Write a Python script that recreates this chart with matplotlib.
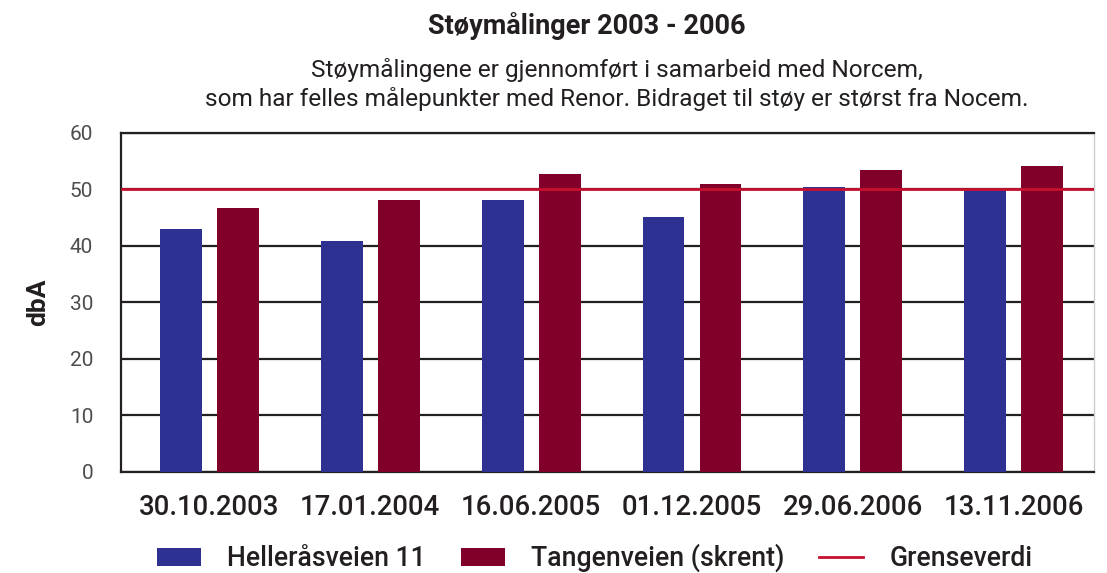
import matplotlib
matplotlib.use("Agg")
import matplotlib.pyplot as plt
import numpy as np
from matplotlib.patches import Patch
from matplotlib.lines import Line2D

DATOER = ["30.10.2003", "17.01.2004", "16.06.2005", "01.12.2005", "29.06.2006", "13.11.2006"]
HELLERAS = [43.0, 40.8, 48.2, 45.1, 50.5, 50.1]
TANGEN = [46.8, 48.1, 52.8, 51.0, 53.4, 54.1]
GRENSE = 50

BLA = "#2e3192"
RODT = "#80002a"
LINJE = "#c8102e"
TEKST = "#231f20"

plt.rcParams["font.family"] = ["Roboto", "DejaVu Sans"]

fig = plt.figure(figsize=(11.07, 5.73), dpi=100)
ax = fig.add_axes([0.1093, 0.1763, 0.8790, 0.5916])

x = np.arange(len(DATOER))
bredde = 0.26
ax.bar(x - 0.177, HELLERAS, bredde, color=BLA, zorder=3)
ax.bar(x + 0.177, TANGEN, bredde, color=RODT, zorder=3)
ax.axhline(GRENSE, color=LINJE, linewidth=2, zorder=4)

ax.set_ylim(0, 60)
ax.set_xlim(-0.55, 5.5)
ax.set_yticks(range(0, 61, 10))
ax.yaxis.grid(True, color=TEKST, linewidth=1.6, zorder=1)
ax.set_xticks(x)
ax.set_xticklabels(DATOER, fontsize=19.8, fontweight="medium", color=TEKST)
ax.tick_params(axis="y", length=0, labelsize=15, pad=20, labelcolor="#4d4d4d")
ax.tick_params(axis="x", length=0, pad=16)
for s in ["left", "top", "bottom"]:
    ax.spines[s].set_color(TEKST)
    ax.spines[s].set_linewidth(1.6)
ax.spines["right"].set_color("#cccccc")
ax.spines["right"].set_linewidth(1.0)
ax.set_ylabel("dbA", fontsize=19, fontweight="bold", color=TEKST, labelpad=14)

fig.text(0.53, 0.955, "Støymålinger 2003 - 2006", ha="center", va="center",
         fontsize=19.5, fontweight="bold", color=TEKST)
fig.text(0.557, 0.852, "Støymålingene er gjennomført i samarbeid med Norcem,\n"
         "som har felles målepunkter med Renor. Bidraget til støy er størst fra Nocem.",
         ha="center", va="center", fontsize=17.6, color=TEKST, linespacing=1.25)

handles = [Patch(facecolor=BLA), Patch(facecolor=RODT),
           Line2D([0], [0], color=LINJE, linewidth=2)]
fig.legend(handles, ["Helleråsveien 11", "Tangenveien (skrent)", "Grenseverdi"],
           loc="center", bbox_to_anchor=(0.5375, 0.026), ncol=3, frameon=False,
           prop={"size": 19.2, "weight": "medium"}, handlelength=1.65,
           handleheight=0.65, columnspacing=1.3, handletextpad=1.0,
           labelcolor=TEKST)

fig.savefig("out.png", dpi=100, facecolor="white")
